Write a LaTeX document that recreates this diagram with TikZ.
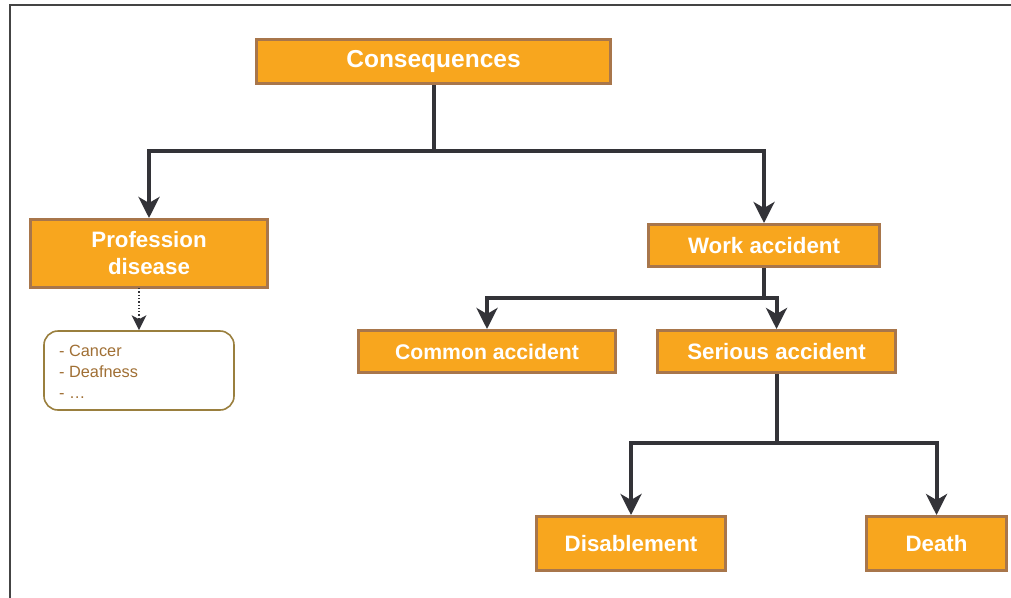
\documentclass[tikz,border=0pt]{standalone}
\usepackage{fontspec}
\setmainfont{Liberation Sans}
\usetikzlibrary{arrows.meta,positioning}
\definecolor{boxfill}{HTML}{F8A61E}
\definecolor{boxline}{HTML}{A8764B}
\definecolor{conncol}{HTML}{333338}
\definecolor{listline}{HTML}{9A7F3E}
\definecolor{listtext}{HTML}{A06F34}
\definecolor{framecol}{HTML}{444444}
\tikzset{
  obox/.style={draw=boxline, fill=boxfill, line width=3pt, text=white,
    font=\bfseries\fontsize{22.3}{27}\selectfont, align=center, inner sep=0pt},
  conn/.style={draw=conncol, line width=4pt,
    -{Stealth[length=21pt,width=21pt,inset=6pt]}},
  dotconn/.style={draw=conncol, line width=1.3pt, dotted,
    -{Stealth[length=15pt,width=15pt,inset=4pt,line width=0pt]}},
  listbox/.style={draw=listline, fill=white, line width=1.6pt, rounded corners=14pt,
    inner sep=0pt}
}
\begin{document}
\begin{tikzpicture}[x=1pt,y=-1pt]
\useasboundingbox (0,0) rectangle (1011,597);
\draw[framecol, line width=2pt] (10,600) -- (10,5) -- (1015,5);

\node[obox, minimum width=354pt, minimum height=44pt, font=\bfseries\fontsize{24.5}{28}\selectfont] (cons) at (433.5,61.5) {Consequences};
\node[obox, minimum width=237pt, minimum height=68pt] (prof) at (149,253.5) {Profession\\disease};
\node[obox, minimum width=231pt, minimum height=42pt] (work) at (764,245.5) {Work accident};
\node[obox, minimum width=257pt, minimum height=42pt, font=\bfseries\fontsize{21.2}{26}\selectfont] (common) at (487,351.5) {Common accident};
\node[obox, minimum width=238pt, minimum height=42pt] (serious) at (776.5,351.5) {Serious accident};
\node[obox, minimum width=189pt, minimum height=54pt] (disable) at (631,543.5) {Disablement};
\node[obox, minimum width=140pt, minimum height=54pt] (death) at (936.5,543.5) {Death};
\node[listbox, minimum width=190pt, minimum height=79pt] (list) at (139,370.5) {};
\node[anchor=north west, text=listtext, font=\fontsize{16.3}{21}\selectfont, align=left, inner sep=0pt] (listtxt) at (59,344.5) {- Cancer\\- Deafness\\- \dots};

\coordinate (j1) at (433.5,151);
\coordinate (j2) at (764,298);
\coordinate (j3) at (776.5,443);
\coordinate (pd) at (139,288);

\draw[conn] (cons.south) -- (j1) -| (prof.north);
\draw[conn] (j1) -| (work.north);
\draw[conn] (work.south) -- (j2) -| (common.north);
\draw[conn] (j2) -| (serious.north);
\draw[conn] (serious.south) -- (j3) -| (disable.north);
\draw[conn] (j3) -| (death.north);
\draw[dotconn] (pd) -- (list.north);
\end{tikzpicture}
\end{document}
